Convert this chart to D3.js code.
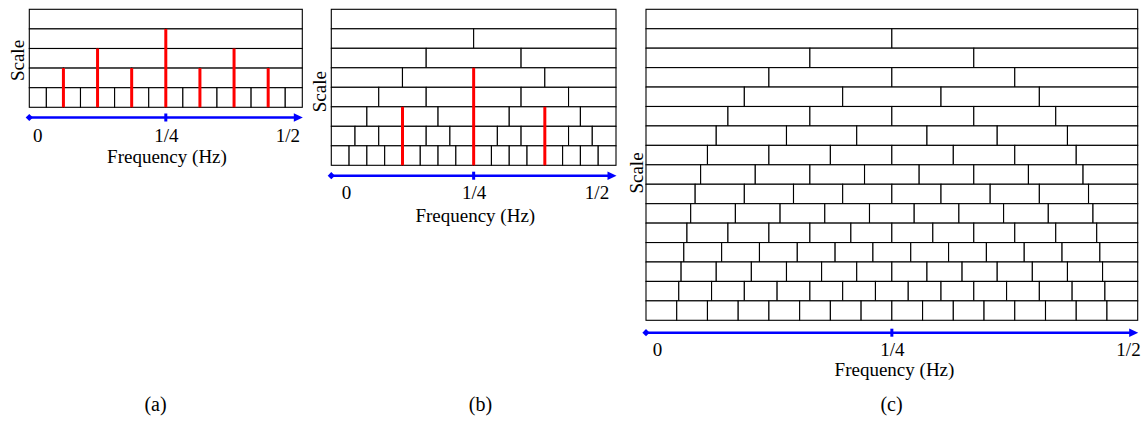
<!DOCTYPE html>
<html>
<head>
<meta charset="utf-8">
<script src="https://cdn.jsdelivr.net/npm/d3@7"></script>
<style>
  html, body { margin: 0; padding: 0; background: #fff; }
  svg { display: block; }
  text { font-family: "Liberation Serif", "Times New Roman", serif; fill: #000; }
</style>
</head>
<body>
<svg id="chart" width="1145" height="423"></svg>
<script>
// ---- data ----
const tickValues = [0, 0.25, 0.5];
const tickLabels = ["0", "1/4", "1/2"];
const xTitle = "Frequency (Hz)";
const yTitle = "Scale";
const panelCaptions = ["(a)", "(b)", "(c)"];

// number of equal cells in each scale row (top row first)
const cellsA = [1, 2, 4, 8, 16];
const cellsB = [1, 2, 3, 4, 6, 8, 12, 16];
const cellsC = [1, 2, 3, 4, 5, 6, 7, 8, 9, 10, 11, 12, 13, 14, 15, 16];

// red lines: frequency (Hz) and row index (from top) where each line starts
const redFreqA = [1/16, 1/8, 3/16, 1/4, 5/16, 3/8, 7/16];
const redStartA = [3, 2, 3, 1, 3, 2, 3];
const redFreqB = [1/8, 1/4, 3/8];
const redStartB = [5, 3, 5];
const redFreqC = [];
const redStartC = [];

// ---- layout ----
const panels = [
  { cells: cellsA, redF: redFreqA, redS: redStartA, caption: panelCaptions[0],
    x0: 29.3, x1: 302.3, y0: 9.3, y1: 107.3, axisY: 117.5, tickDy: 24.2, freqY: 163, freqX: 167,
    scaleX: 23.5, scaleY: 60.5, capX: 155.5, firstDx: 8, lastDx: -15 },
  { cells: cellsB, redF: redFreqB, redS: redStartB, caption: panelCaptions[1],
    x0: 331.3, x1: 616.0, y0: 9.3, y1: 165.3, axisY: 175.7, tickDy: 23.6, freqY: 221.7, freqX: 475.3,
    scaleX: 325.5, scaleY: 91.7, capX: 480.5, firstDx: 14.7, lastDx: -19.5 },
  { cells: cellsC, redF: redFreqC, redS: redStartC, caption: panelCaptions[2],
    x0: 646.0, x1: 1137.7, y0: 9.3, y1: 320.3, axisY: 332.7, tickDy: 23.3, freqY: 376, freqX: 894.5,
    scaleX: 643, scaleY: 173, capX: 891.5, firstDx: 11, lastDx: -9.7 }
];
const captionY = 411;
const FONT = 19;
const CAP_FONT = 20;

const svg = d3.select("#chart");

panels.forEach(p => {
  const g = svg.append("g");
  const x = d3.scaleLinear().domain([0, 0.5]).range([p.x0, p.x1]);
  const y = d3.scaleBand().domain(d3.range(p.cells.length)).range([p.y0, p.y1]).padding(0);

  // cells
  const cellData = [];
  p.cells.forEach((n, r) => {
    for (let k = 0; k < n; k++) cellData.push({ r, a: 0.5 * k / n, b: 0.5 * (k + 1) / n });
  });
  g.selectAll("rect.cell").data(cellData).join("rect")
    .attr("class", "cell")
    .attr("x", d => x(d.a)).attr("width", d => x(d.b) - x(d.a))
    .attr("y", d => y(d.r)).attr("height", y.bandwidth())
    .attr("fill", "#fff").attr("stroke", "#000").attr("stroke-width", 1.1);

  // red lines
  g.selectAll("line.red").data(p.redF.map((f, i) => ({ f, s: p.redS[i] }))).join("line")
    .attr("class", "red")
    .attr("x1", d => x(d.f)).attr("x2", d => x(d.f))
    .attr("y1", d => y(d.s)).attr("y2", p.y1)
    .attr("stroke", "#ff0000").attr("stroke-width", 3);

  // blue frequency axis
  const blue = "#0000ff";
  const ay = p.axisY;
  g.append("line")
    .attr("x1", x(0)).attr("x2", x(0.5) - 6)
    .attr("y1", ay).attr("y2", ay)
    .attr("stroke", blue).attr("stroke-width", 2.4);
  g.append("path")
    .attr("d", `M${x(0) - 3.6},${ay} L${x(0)},${ay - 3.6} L${x(0) + 3.6},${ay} L${x(0)},${ay + 3.6} Z`)
    .attr("fill", blue);
  g.append("path")
    .attr("d", `M${x(0.5) + 0.5},${ay} L${x(0.5) - 8.5},${ay - 4.2} L${x(0.5) - 8.5},${ay + 4.2} Z`)
    .attr("fill", blue);
  g.append("rect")
    .attr("x", x(0.25) - 1.5).attr("width", 3)
    .attr("y", ay - 4).attr("height", 8)
    .attr("fill", blue);

  // tick labels via d3 axis
  const axis = d3.axisBottom(x).tickValues(tickValues)
    .tickFormat((d, i) => tickLabels[i]).tickSize(0).tickPadding(0);
  const axG = g.append("g").attr("transform", `translate(0,${ay})`).call(axis);
  axG.select(".domain").remove();
  axG.selectAll("text")
    .attr("dy", null).attr("y", p.tickDy)
    .style("font-family", '"Liberation Serif", serif')
    .style("font-size", FONT + "px").attr("fill", "#000")
    .attr("dx", (d, i) => i === 0 ? p.firstDx : (i === tickValues.length - 1 ? p.lastDx : 0));

  // axis titles
  g.append("text").attr("x", p.freqX).attr("y", p.freqY)
    .attr("text-anchor", "middle").style("font-size", FONT + "px").text(xTitle);
  g.append("text")
    .attr("transform", `translate(${p.scaleX},${p.scaleY}) rotate(-90)`)
    .attr("text-anchor", "middle").style("font-size", FONT + "px").text(yTitle);

  // caption
  g.append("text").attr("x", p.capX).attr("y", captionY)
    .attr("text-anchor", "middle").style("font-size", CAP_FONT + "px").text(p.caption);
});
</script>
</body>
</html>
